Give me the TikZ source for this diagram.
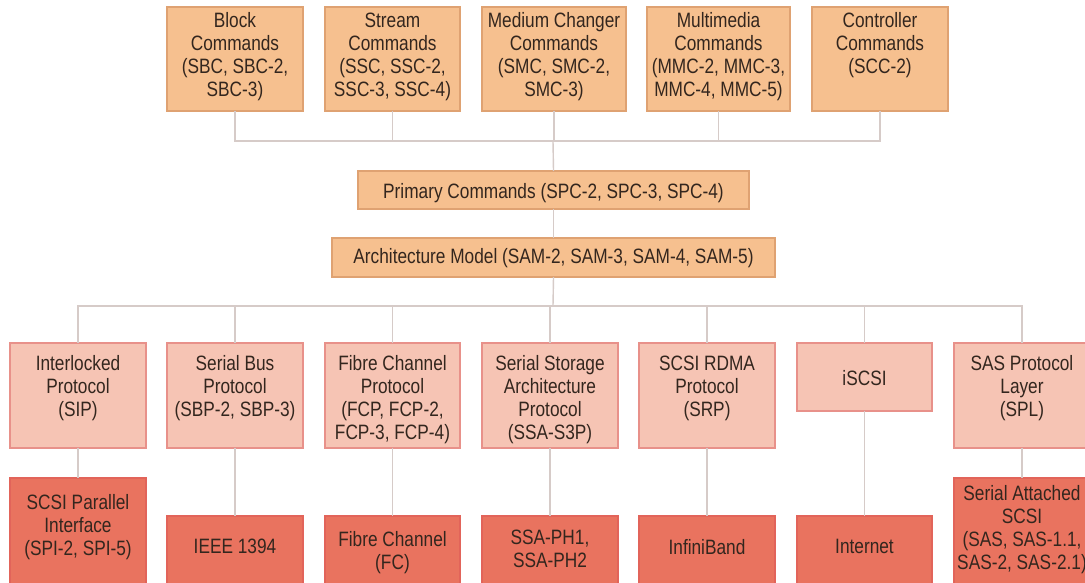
\documentclass[tikz,border=0pt]{standalone}
\usepackage{fontspec}
\setmainfont[FakeStretch=0.83]{Liberation Sans}
\usetikzlibrary{calc}

\definecolor{cmdfill}{HTML}{F6C08F}
\definecolor{cmddraw}{HTML}{DFA272}
\definecolor{protfill}{HTML}{F6C4B4}
\definecolor{protdraw}{HTML}{E8918A}
\definecolor{physfill}{HTML}{E9735F}
\definecolor{physdraw}{HTML}{E2645A}
\definecolor{wirecol}{HTML}{D6CBC8}
\definecolor{ink}{HTML}{33261E}

\tikzset{
  box/.style={rectangle, line width=1.2pt, outer sep=0pt, inner sep=0pt, anchor=north west},
  cmd/.style={box, fill=cmdfill, draw=cmddraw},
  prot/.style={box, fill=protfill, draw=protdraw},
  phys/.style={box, fill=physfill, draw=physdraw},
  txt/.style={inner sep=0pt, outer sep=0pt, align=center, text=ink,
              font=\fontsize{20.8}{23}\selectfont, anchor=north},
  wire/.style={draw=wirecol, line width=1.4pt},
}

% \bx{name}{style}{left}{top}{right}{bottom}{text top}{text}
\newcommand\bx[8]{%
  \node[#2, minimum width={(#5-#3)*1pt}, minimum height={(#6-#4)*1pt}] (#1) at (#3,#4) {};
  \node[txt] (#1-t) at ({(#3+#5)/2},#7) {#8};
}

\begin{document}
\begin{tikzpicture}[x=1pt,y=-1pt]
\fill[white] (0,0) rectangle (1085,583);
\useasboundingbox (0,0) rectangle (1085,583);
\clip (0,0) rectangle (1085,583);

% command sets
\bx{sbc}{cmd}{167}{7}{303}{111}{12.5}{Block\\Commands\\(SBC, SBC-2,\\SBC-3)}
\bx{ssc}{cmd}{325}{7}{460}{111}{12.5}{Stream\\Commands\\(SSC, SSC-2,\\SSC-3, SSC-4)}
\bx{smc}{cmd}{482}{7}{626}{111}{12.5}{Medium Changer\\Commands\\(SMC, SMC-2,\\SMC-3)}
\bx{mmc}{cmd}{647}{7}{790}{111}{12.5}{Multimedia\\Commands\\(MMC-2, MMC-3,\\MMC-4, MMC-5)}
\bx{scc}{cmd}{812}{7}{948}{111}{12.5}{Controller\\Commands\\(SCC-2)}

% shared layers
\bx{spc}{cmd}{358}{171}{749}{209}{183}{Primary Commands (SPC-2, SPC-3, SPC-4)}
\bx{sam}{cmd}{332}{238}{775}{277}{248}{Architecture Model (SAM-2, SAM-3, SAM-4, SAM-5)}

% transport protocols
\bx{sip}{prot}{10}{343}{146}{448}{355.5}{Interlocked\\Protocol\\(SIP)}
\bx{sbp}{prot}{167}{343}{303}{448}{355.5}{Serial Bus\\Protocol\\(SBP-2, SBP-3)}
\bx{fcp}{prot}{325}{343}{460}{448}{355.5}{Fibre Channel\\Protocol\\(FCP, FCP-2,\\FCP-3, FCP-4)}
\bx{ssa}{prot}{482}{343}{618}{448}{355.5}{Serial Storage\\Architecture\\Protocol\\(SSA-S3P)}
\bx{srp}{prot}{639}{343}{775}{448}{355.5}{SCSI RDMA\\Protocol\\(SRP)}
\bx{iscsi}{prot}{797}{343}{932}{411}{370}{iSCSI}
\bx{spl}{prot}{954}{343}{1090}{448}{355.5}{SAS Protocol\\Layer\\(SPL)}

% interconnects
\bx{spi}{phys}{10}{478}{146}{620}{494}{SCSI Parallel\\Interface\\(SPI-2, SPI-5)}
\bx{ieee}{phys}{167}{516}{303}{620}{539}{IEEE 1394}
\bx{fc}{phys}{325}{516}{460}{620}{531}{Fibre Channel\\(FC)}
\bx{ssaph}{phys}{482}{516}{618}{620}{530}{SSA-PH1,\\SSA-PH2}
\bx{ib}{phys}{639}{516}{775}{620}{539}{InfiniBand}
\bx{inet}{phys}{797}{516}{932}{620}{539}{Internet}
\bx{sas}{phys}{954}{478}{1090}{620}{485}{Serial Attached\\SCSI\\(SAS, SAS-1.1,\\SAS-2, SAS-2.1)}

% bus lines
\coordinate (tbus) at (553,141);
\coordinate (bbus) at (553,306);

\draw[wire] (sbc.south) |- (scc.south |- tbus) -- (scc.south);
\foreach \n in {ssc,smc,mmc} \draw[wire] (\n.south) -- (\n.south |- tbus);
\draw[wire] (tbus) -- (spc.north);
\draw[wire] (spc.south) -- (sam.north);
\draw[wire] (sam.south) -- (bbus);
\draw[wire] (sip.north) |- (bbus) -| (spl.north);
\foreach \n in {sbp,fcp,ssa,srp,iscsi} \draw[wire] (\n.north) -- (\n.north |- bbus);

\draw[wire] (sip.south) -- (spi.north);
\draw[wire] (sbp.south) -- (ieee.north);
\draw[wire] (fcp.south) -- (fc.north);
\draw[wire] (ssa.south) -- (ssaph.north);
\draw[wire] (srp.south) -- (ib.north);
\draw[wire] (iscsi.south) -- (inet.north);
\draw[wire] (spl.south) -- (sas.north);
\end{tikzpicture}
\end{document}
